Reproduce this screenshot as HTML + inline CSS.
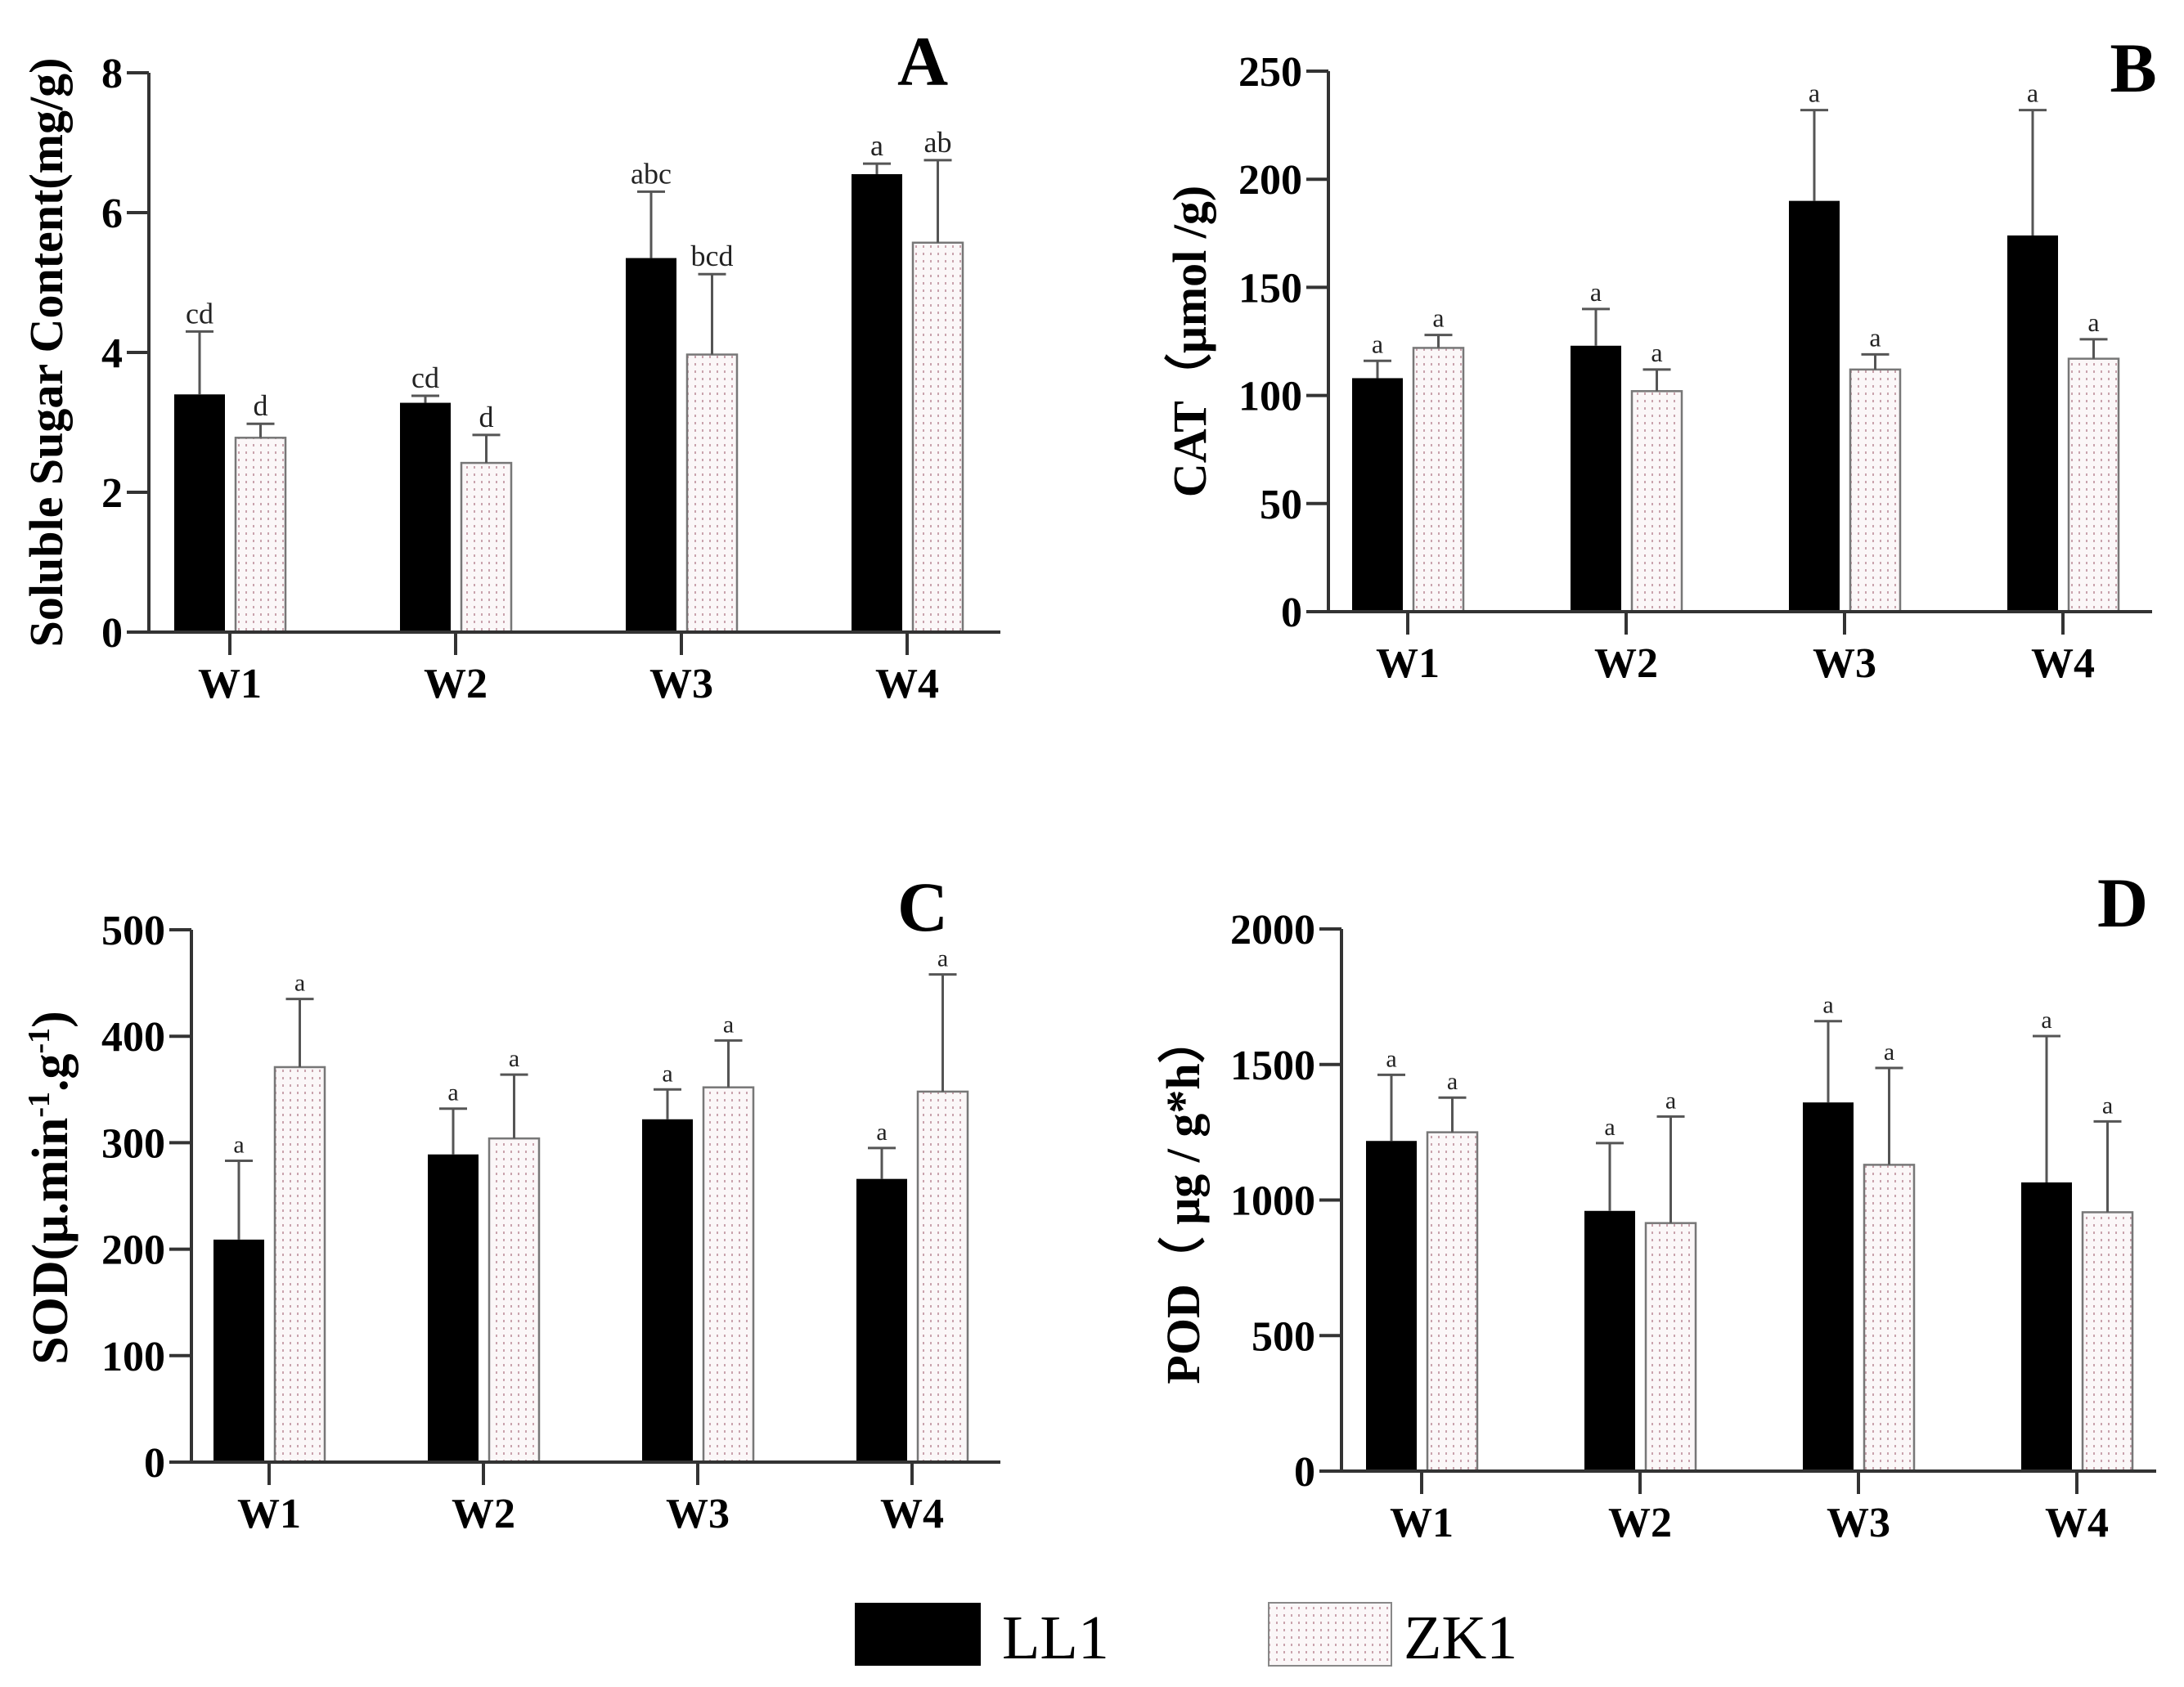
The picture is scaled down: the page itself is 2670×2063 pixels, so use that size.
<!DOCTYPE html>
<html><head><meta charset="utf-8"><style>html,body{margin:0;padding:0;background:#fff}svg{display:block}#fig text{font-family:"Liberation Serif",serif}</style></head>
<body>
<svg id="fig" width="2670" height="2063" viewBox="0 0 2670 2063" xmlns="http://www.w3.org/2000/svg">
<defs>
<pattern id="dots" width="9" height="9" patternUnits="userSpaceOnUse">
<rect width="9" height="9" fill="#fbf7f8"/>
<rect x="3" y="3" width="2" height="3" fill="#c9a3ad"/>
</pattern>
</defs>
<g id="legend">
<rect x="1045" y="1960" width="154" height="77" fill="#000"/>
<text x="1225" y="2028" font-size="76">LL1</text>
<rect x="1551" y="1960" width="150" height="77" fill="url(#dots)" stroke="#888" stroke-width="2"/>
<text x="1716" y="2028" font-size="76">ZK1</text>
</g>
</svg>
<script>
const categories = ["W1","W2","W3","W4"];
const aLL1 = [3.4, 3.28, 5.35, 6.55];
const aLL1Err = [4.3, 3.38, 6.3, 6.7];
const aZK1 = [2.78, 2.42, 3.97, 5.57];
const aZK1Err = [2.98, 2.82, 5.12, 6.75];
const aLL1Let = ["cd","cd","abc","a"];
const aZK1Let = ["d","d","bcd","ab"];
const aTicks = [0,2,4,6,8];
const bLL1 = [108, 123, 190, 174];
const bLL1Err = [116, 140, 232, 232];
const bZK1 = [122, 102, 112, 117];
const bZK1Err = [128, 112, 119, 126];
const bTicks = [0,50,100,150,200,250];
const cLL1 = [209, 289, 322, 266];
const cLL1Err = [283, 332, 350, 295];
const cZK1 = [371, 304, 352, 348];
const cZK1Err = [435, 364, 396, 458];
const cTicks = [0,100,200,300,400,500];
const dLL1 = [1218, 960, 1360, 1065];
const dLL1Err = [1462, 1210, 1660, 1605];
const dZK1 = [1250, 915, 1130, 955];
const dZK1Err = [1378, 1308, 1487, 1290];
const dTicks = [0,500,1000,1500,2000];
const allA = ["a","a","a","a"];

const NS = "http://www.w3.org/2000/svg";
const svg = document.getElementById("fig");
function mk(tag, attrs, parent){const e=document.createElementNS(NS,tag);for(const k in attrs)e.setAttribute(k,attrs[k]);parent.appendChild(e);return e;}

function panel(cfg){
  const g = mk("g",{},svg);
  
  
  const max = cfg.ticks[cfg.ticks.length-1];
  const y = v => cfg.y0 - (v/max)*(cfg.y0-cfg.yTop);
  const x = i => cfg.c0 + i*cfg.step;
  categories.forEach((c,i)=>{
    const cx = x(i);
    const b1 = mk("rect",{x:cx-68,y:y(cfg.s1[i]),width:62,height:cfg.y0-y(cfg.s1[i]),fill:"#000"},g);
    
    
    const b2 = mk("rect",{x:cx+7,y:y(cfg.s2[i]),width:61,height:cfg.y0-y(cfg.s2[i]),fill:"url(#dots)",stroke:"#777","stroke-width":2.5},g);
    
    
    [[cx-37,cfg.s1[i],cfg.e1[i],cfg.l1[i]],[cx+37.5,cfg.s2[i],cfg.e2[i],cfg.l2[i]]].forEach((d,k)=>{
      const eg = mk("g",{stroke:"#555","stroke-width":3},g);
      
      
      mk("line",{x1:d[0],x2:d[0],y1:y(d[1]),y2:y(d[2])},eg);
      mk("line",{x1:d[0]-17,x2:d[0]+17,y1:y(d[2]),y2:y(d[2])},eg);
      const t = mk("text",{x:d[0],y:y(d[2])-10,"text-anchor":"middle","font-size":cfg.letSize,fill:"#222"},g);
      t.textContent = d[3];
      
      
    });
  });
  const ax = mk("g",{stroke:"#333","stroke-width":4},g);
  
  
  mk("line",{x1:cfg.ax,x2:cfg.ax,y1:cfg.yTop,y2:cfg.y0+2},ax);
  mk("line",{x1:cfg.ax-27,x2:cfg.xEnd,y1:cfg.y0,y2:cfg.y0},ax);
  cfg.ticks.forEach(tv=>{
    mk("line",{x1:cfg.ax-27,x2:cfg.ax,y1:y(tv),y2:y(tv)},ax);
    const t = mk("text",{x:cfg.ax-32,y:y(tv)+18,"text-anchor":"end","font-size":52,"font-weight":"bold"},g);
    t.textContent = tv;
    
    
  });
  categories.forEach((c,i)=>{
    mk("line",{x1:x(i),x2:x(i),y1:cfg.y0,y2:cfg.y0+28},ax);
    const t = mk("text",{x:x(i),y:cfg.y0+80,"text-anchor":"middle","font-size":52,"font-weight":"bold"},g);
    t.textContent = c;
    
    
  });
  const mid = (cfg.yTop+cfg.y0)/2 + (cfg.titleDy||0);
  const tt = mk("text",{x:0,y:0,"text-anchor":"middle","font-size":cfg.titleSize,"font-weight":"bold",transform:`translate(${cfg.titleX},${mid}) rotate(-90)`},g);
  tt.innerHTML = cfg.title;
  
  
  const pl = mk("text",{x:cfg.lx,y:cfg.ly,"text-anchor":"middle","font-size":86,"font-weight":"bold"},g);
  pl.textContent = cfg.label;
  
  
}

panel({name:"panel-a-soluble-sugar",ticks:aTicks,s1:aLL1,e1:aLL1Err,s2:aZK1,e2:aZK1Err,l1:aLL1Let,l2:aZK1Let,
  ax:182,yTop:89,y0:773,xEnd:1223,c0:281,step:276,letSize:36,titleX:76,titleSize:58,
  title:"Soluble Sugar Content(mg/g)",label:"A",lx:1128,ly:104});
panel({name:"panel-b-cat",ticks:bTicks,s1:bLL1,e1:bLL1Err,s2:bZK1,e2:bZK1Err,l1:allA,l2:allA,
  ax:1624,yTop:87,y0:748,xEnd:2631,c0:1721,step:267,letSize:32,titleX:1474,titleSize:58,
  title:"CAT（μmol /g)",label:"B",lx:2608,ly:112});
panel({name:"panel-c-sod",ticks:cTicks,s1:cLL1,e1:cLL1Err,s2:cZK1,e2:cZK1Err,l1:allA,l2:allA,
  ax:234,yTop:1137,y0:1788,xEnd:1223,c0:329,step:262,letSize:30,titleX:82,titleSize:62,titleDy:-10,
  title:'SOD(μ.min<tspan dy="-22" font-size="38">-1</tspan><tspan dy="22">.g</tspan><tspan dy="-22" font-size="38">-1</tspan><tspan dy="22">)</tspan>',label:"C",lx:1128,ly:1138});
panel({name:"panel-d-pod",ticks:dTicks,s1:dLL1,e1:dLL1Err,s2:dZK1,e2:dZK1Err,l1:allA,l2:allA,
  ax:1640,yTop:1136,y0:1799,xEnd:2636,c0:1738,step:267,letSize:30,titleX:1466,titleSize:58,
  title:"POD（ μg / g*h）",label:"D",lx:2595,ly:1133});
</script>
</body></html>
